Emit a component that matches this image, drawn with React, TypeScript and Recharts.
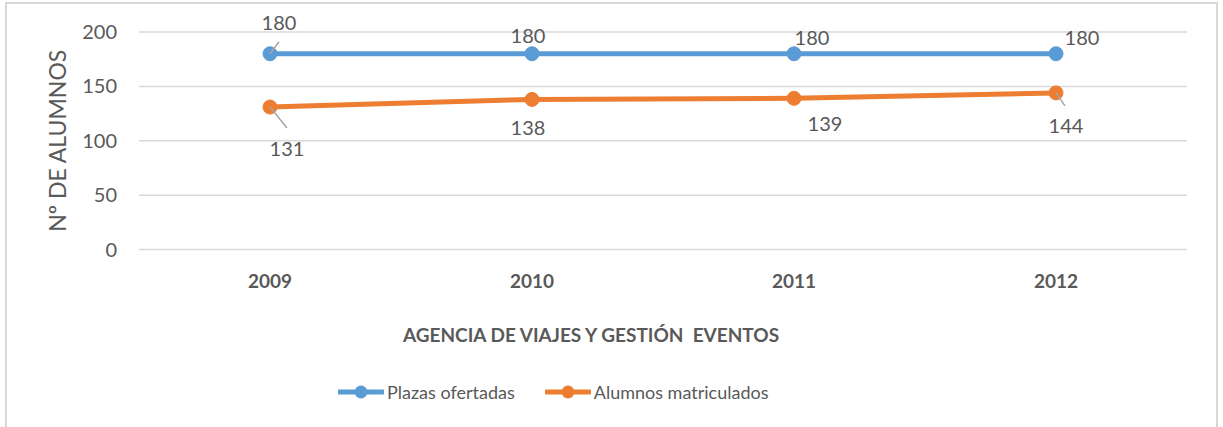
import React from "react";
import { LineChart, Line, XAxis, YAxis, CartesianGrid, Legend, LabelList, Label } from "recharts";

const years = ["2009", "2010", "2011", "2012"];
const plazasOfertadas = [180, 180, 180, 180];
const alumnosMatriculados = [131, 138, 139, 144];
const yTicks = [0, 50, 100, 150, 200];

const SERIES = [
  { key: "plazas", name: "Plazas ofertadas", color: "#5B9BD5" },
  { key: "alumnos", name: "Alumnos matriculados", color: "#ED7D31" },
];

const data = years.map((y, i) => ({ year: y, plazas: plazasOfertadas[i], alumnos: alumnosMatriculados[i] }));

const FONT = "Lato, 'Open Sans', sans-serif";
const TEXT = "#595959";

// label placement offsets (dx, dy of label centre) and optional leader end
const plazasLabelPos = [
  { dx: 9, dy: -31, lead: [9, -12] },
  { dx: -4, dy: -17.5 },
  { dx: 18, dy: -16 },
  { dx: 26, dy: -15.5 },
];
const alumnosLabelPos = [
  { dx: 17, dy: 42, lead: [17, 21] },
  { dx: -4, dy: 29 },
  { dx: 31, dy: 26 },
  { dx: 10, dy: 33.5, lead: [9, 13] },
];

const makeLabel = (pos: any[]) => (props: any) => {
  const { x, y, value, index } = props;
  const p = pos[index];
  if (!p) return null;
  return (
    <g>
      {p.lead && (
        <line x1={x} y1={y} x2={x + p.lead[0]} y2={y + p.lead[1]} stroke="#A6A6A6" strokeWidth={1.5} />
      )}
      <text x={x + p.dx} y={y + p.dy + 7} textAnchor="middle" fill={TEXT} fontSize={20} fontFamily={FONT}>
        {value}
      </text>
    </g>
  );
};

const LegendContent = () => (
  <div style={{ display: "flex", alignItems: "center", fontFamily: FONT, fontSize: 18, color: TEXT, height: 24 }}>
    {SERIES.map((s, i) => (
      <div key={s.key} style={{ display: "flex", alignItems: "center", marginRight: i === 0 ? 30 : 0 }}>
        <svg width={46} height={16} style={{ marginRight: 3 }}>
          <line x1={1} y1={8} x2={45} y2={8} stroke={s.color} strokeWidth={5} strokeLinecap="round" />
          <circle cx={23} cy={8} r={6.5} fill={s.color} />
        </svg>
        <span>{s.name}</span>
      </div>
    ))}
  </div>
);

export default function App() {
  return (
    <div style={{ position: "absolute", left: 0, top: 0, width: 1223, height: 427, background: "#fff", overflow: "hidden" }}>
      <div style={{ position: "absolute", left: 5, top: 2, width: 1209, height: 440, border: "2px solid #D9D9D9" }} />
      <div style={{ position: "absolute", left: 0, top: 0 }}>
        <LineChart width={1223} height={427} data={data} margin={{ top: 32, right: 36, left: 6, bottom: 123.5 }}>
          <CartesianGrid vertical={false} stroke="#D9D9D9" strokeWidth={1.5} />
          <XAxis
            dataKey="year"
            axisLine={false}
            tickLine={false}
            height={30}
            tickSize={6}
            tickMargin={19}
            padding={{ left: 131, right: 131 }}
            tick={{ fill: TEXT, fontSize: 19, fontWeight: 700, fontFamily: FONT }}
          >
            <Label
              value={"AGENCIA DE VIAJES Y GESTIÓN\u00A0 EVENTOS"}
              position="bottom"
              offset={49}
              dx={-72}
              style={{ fill: TEXT, fontSize: 19, fontWeight: 700, fontFamily: FONT }}
            />
          </XAxis>
          <YAxis
            domain={[0, 200]}
            ticks={yTicks}
            axisLine={false}
            tickLine={false}
            width={133}
            tickSize={6}
            tickMargin={16}
            tick={{ fill: TEXT, fontSize: 20, fontFamily: FONT }}
          >
            <Label
              value="Nº DE ALUMNOS"
              angle={-90}
              position="center"
              dx={-15}
              style={{ fill: TEXT, fontSize: 23, fontFamily: FONT, textAnchor: "middle" }}
            />
          </YAxis>
          <Legend
            verticalAlign="bottom"
            content={<LegendContent />}
            wrapperStyle={{ left: 338, top: 380, width: 460, height: 24 }}
          />
          <Line
            type="linear"
            dataKey="plazas"
            name={SERIES[0].name}
            stroke={SERIES[0].color}
            strokeWidth={5}
            dot={{ r: 7, fill: SERIES[0].color, stroke: SERIES[0].color, strokeWidth: 1 }}
            isAnimationActive={false}
          >
            <LabelList dataKey="plazas" content={makeLabel(plazasLabelPos)} />
          </Line>
          <Line
            type="linear"
            dataKey="alumnos"
            name={SERIES[1].name}
            stroke={SERIES[1].color}
            strokeWidth={5}
            dot={{ r: 7, fill: SERIES[1].color, stroke: SERIES[1].color, strokeWidth: 1 }}
            isAnimationActive={false}
          >
            <LabelList dataKey="alumnos" content={makeLabel(alumnosLabelPos)} />
          </Line>
        </LineChart>
      </div>
    </div>
  );
}
